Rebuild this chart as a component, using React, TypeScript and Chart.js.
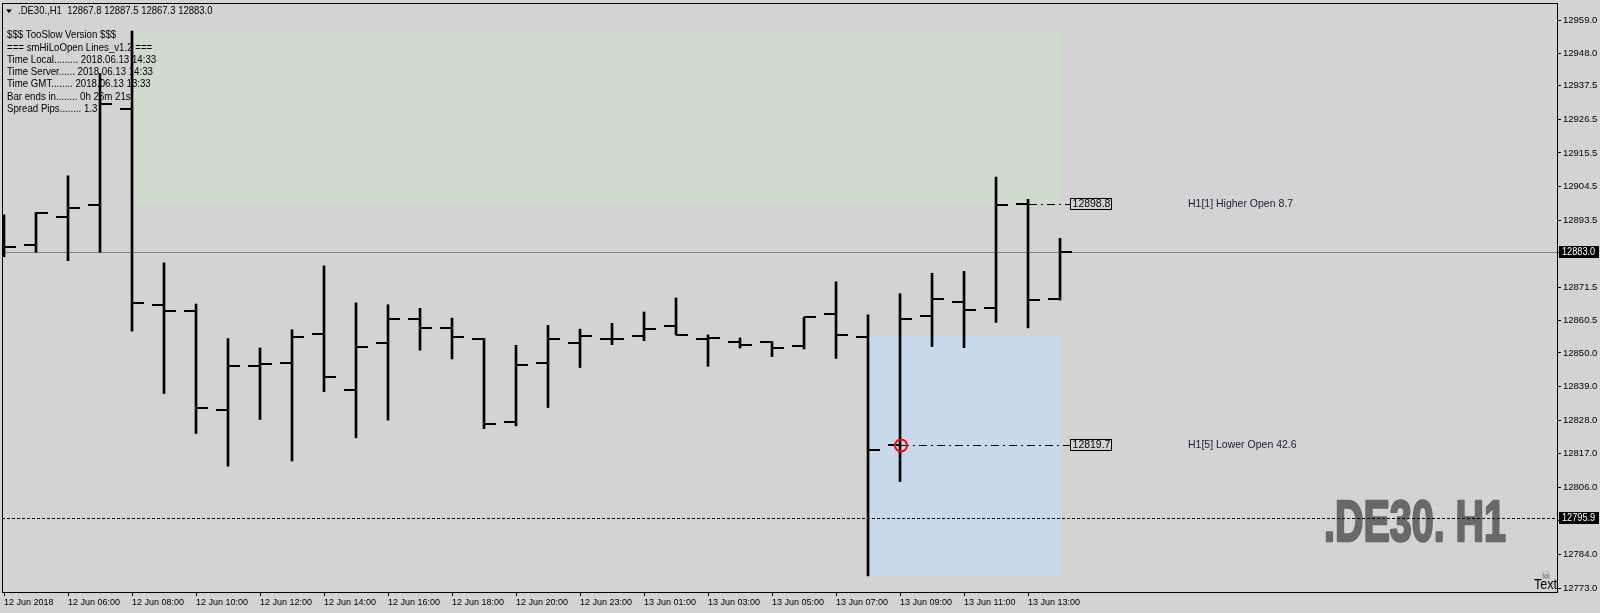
import React, { useEffect, useRef } from 'react';
import { Chart, registerables } from 'chart.js';

Chart.register(...registerables);

// ---------- DATA ----------
const opens = [
  12890.0, 12885.5, 12894.6, 12898.3, 12929.8, 12865.8, 12863.7, 12831.4, 12845.8, 12846.7,
  12856.2, 12837.9, 12853.3, 12861.0, 12858.0, 12854.5, 12827.3, 12846.8, 12853.3, 12854.7,
  12855.4, 12858.7, 12854.7, 12853.7, 12853.7, 12852.2, 12862.9, 12855.3, 12819.7, 12862.2,
  12866.8, 12864.6, 12898.8, 12867.8,
];
const highs = [
  12895.2, 12896.0, 12908.0, 12941.5, 12955.4, 12879.5, 12866.0, 12854.7, 12851.6, 12857.6,
  12878.5, 12866.4, 12865.8, 12864.6, 12861.4, 12854.8, 12852.5, 12859.0, 12857.8, 12859.7,
  12863.4, 12868.0, 12855.9, 12854.9, 12853.7, 12861.7, 12873.3, 12862.5, 12869.4, 12876.1,
  12876.7, 12907.6, 12900.3, 12887.5,
];
const lows = [
  12881.5, 12883.0, 12880.2, 12883.0, 12857.1, 12836.7, 12823.6, 12812.9, 12828.2, 12814.6,
  12837.3, 12822.2, 12828.0, 12850.9, 12848.0, 12825.2, 12826.1, 12832.1, 12845.2, 12852.7,
  12854.0, 12855.9, 12845.6, 12851.6, 12848.8, 12851.3, 12848.2, 12777.0, 12807.9, 12852.1,
  12851.7, 12860.0, 12858.2, 12867.3,
];
const closes = [
  12884.6, 12895.7, 12897.5, 12931.6, 12866.4, 12863.7, 12832.1, 12845.8, 12846.4, 12855.3,
  12842.2, 12852.0, 12861.2, 12858.0, 12855.1, 12826.8, 12846.2, 12854.4, 12855.4, 12854.5,
  12857.7, 12856.0, 12854.8, 12852.7, 12851.5, 12861.7, 12856.0, 12818.3, 12861.2, 12867.7,
  12864.1, 12898.3, 12867.4, 12883.0,
];

const xTickBars = [0, 2, 4, 6, 8, 10, 12, 14, 16, 18, 20, 22, 24, 26, 28, 30, 32];
const xTickLabels = [
  '12 Jun 2018', '12 Jun 06:00', '12 Jun 08:00', '12 Jun 10:00', '12 Jun 12:00', '12 Jun 14:00',
  '12 Jun 16:00', '12 Jun 18:00', '12 Jun 20:00', '12 Jun 23:00', '13 Jun 01:00', '13 Jun 03:00',
  '13 Jun 05:00', '13 Jun 07:00', '13 Jun 09:00', '13 Jun 11:00', '13 Jun 13:00',
];
const yTickLabels = [
  '12959.0', '12948.0', '12937.5', '12926.5', '12915.5', '12904.5', '12893.5', '12883.0', '12871.5',
  '12860.5', '12850.0', '12839.0', '12828.0', '12817.0', '12806.0', '12795.0', '12784.0', '12773.0',
];
const yRange = [12771.7, 12964.6];
const xRange = [-0.0625, 48.53];

const currentPrice = 12883.0;
const dashedLinePrice = 12795.9;
const levelBars = [32, 28];
const levelPrices = [12898.8, 12819.7];
const levelTexts = ['H1[1] Higher Open 8.7', 'H1[5] Lower Open 42.6'];
const greenZoneBars = [4, 33];
const greenZonePrices = [12898.3, 12955.4];
const blueZoneBars = [27, 33];
const blueZonePrices = [12777.0, 12855.5];

const headerText = '.DE30.,H1  12867.8 12887.5 12867.3 12883.0';
const infoLines = [
  '$$$ TooSlow Version $$$',
  '=== smHiLoOpen Lines_v1.2 ===',
  'Time Local......... 2018.06.13 14:33',
  'Time Server...... 2018.06.13 14:33',
  'Time GMT........ 2018.06.13 13:33',
  'Bar ends in........ 0h 26m 21s',
  'Spread Pips........ 1.3',
];
const watermarkText = '.DE30. H1';
const cornerText = 'Text';

// ---------- FONTS ----------
const FONT = '"Liberation Sans", Arial, sans-serif';

function drawScaledText(ctx: CanvasRenderingContext2D, text: string, x: number, y: number, font: string, color: string, sx: number, align: CanvasTextAlign = 'left', baseline: CanvasTextBaseline = 'middle') {
  ctx.save();
  ctx.font = font;
  ctx.fillStyle = color;
  ctx.textAlign = align;
  ctx.textBaseline = baseline;
  ctx.translate(x, y);
  ctx.scale(sx, 1);
  ctx.fillText(text, 0, 0);
  ctx.restore();
}

const mt4Plugin = {
  id: 'mt4',
  beforeDraw(chart: any) {
    const { ctx, width, height } = chart;
    ctx.save();
    ctx.fillStyle = '#d3d3d3';
    ctx.fillRect(0, 0, width, height);
    ctx.restore();
  },
  beforeDatasetsDraw(chart: any) {
    const { ctx, chartArea: a, scales } = chart;
    const xs = scales.x, ys = scales.y;
    ctx.save();
    ctx.beginPath();
    ctx.rect(a.left, a.top, a.right - a.left, a.bottom - a.top);
    ctx.clip();

    const zone = (bars: number[], prices: number[], color: string) => {
      const x0 = Math.round(xs.getPixelForValue(bars[0]));
      const x1 = Math.round(xs.getPixelForValue(bars[1]));
      const y0 = Math.round(ys.getPixelForValue(prices[1]));
      const y1 = Math.round(ys.getPixelForValue(prices[0]));
      ctx.fillStyle = color;
      ctx.fillRect(x0, y0, x1 - x0, y1 - y0);
    };
    zone(greenZoneBars, greenZonePrices, '#cfdbcc');
    zone(blueZoneBars, blueZonePrices, '#c8d9eb');

    // watermark
    ctx.save();
    ctx.font = 'bold 58px ' + FONT;
    const w = ctx.measureText(watermarkText).width;
    ctx.fillStyle = '#696969';
    ctx.strokeStyle = '#696969';
    ctx.lineWidth = 2.5;
    ctx.lineJoin = 'round';
    ctx.textBaseline = 'alphabetic';
    ctx.translate(a.right - 233, a.bottom - 51);
    ctx.scale(182 / w, 1);
    ctx.strokeText(watermarkText, 0, 0);
    ctx.fillText(watermarkText, 0, 0);
    ctx.restore();

    // info text
    infoLines.forEach((t, i) => {
      drawScaledText(ctx, t, a.left + 5, a.top + 32 + i * 12.3, '11.8px ' + FONT, '#000', 0.82);
    });

    // current price line
    const cy = Math.round(ys.getPixelForValue(currentPrice)) + 0.5;
    ctx.strokeStyle = '#778899';
    ctx.lineWidth = 1;
    ctx.beginPath();
    ctx.moveTo(a.left, cy);
    ctx.lineTo(a.right, cy);
    ctx.stroke();

    // dashed line
    const dy = Math.round(ys.getPixelForValue(dashedLinePrice)) + 0.5;
    ctx.strokeStyle = '#000';
    ctx.setLineDash([3, 2]);
    ctx.beginPath();
    ctx.moveTo(a.left, dy);
    ctx.lineTo(a.right, dy);
    ctx.stroke();
    ctx.setLineDash([]);
    ctx.restore();
  },
  afterDatasetsDraw(chart: any) {
    const { ctx, chartArea: a, scales } = chart;
    const xs = scales.x, ys = scales.y;
    ctx.save();
    ctx.beginPath();
    ctx.rect(a.left, a.top, a.right - a.left, a.bottom - a.top);
    ctx.clip();
    ctx.fillStyle = '#000';
    for (let i = 0; i < opens.length; i++) {
      const px = Math.round(xs.getPixelForValue(i));
      const oy = Math.round(ys.getPixelForValue(opens[i]));
      const cy = Math.round(ys.getPixelForValue(closes[i]));
      ctx.fillRect(px - 12, oy - 1, 12, 2);
      ctx.fillRect(px, cy - 1, 12, 2);
    }

    const lastX = Math.round(xs.getPixelForValue(opens.length - 1));
    const boxX = lastX + 10;
    levelPrices.forEach((p, k) => {
      const bx = Math.round(xs.getPixelForValue(levelBars[k]));
      const ly = Math.round(ys.getPixelForValue(p)) + 0.5;
      ctx.strokeStyle = '#000';
      ctx.lineWidth = 1;
      ctx.setLineDash([8, 4, 2, 4]);
      ctx.beginPath();
      ctx.moveTo(bx + 1, ly);
      ctx.lineTo(boxX, ly);
      ctx.stroke();
      ctx.setLineDash([]);
      ctx.strokeRect(boxX + 0.5, ly - 6, 41, 11);
      drawScaledText(ctx, p.toFixed(1), boxX + 21.5, ly, '10.8px ' + FONT, '#000', 0.97, 'center');
      drawScaledText(ctx, levelTexts[k], lastX + 128, ly, '10.5px ' + FONT, '#1a1a33', 1, 'left');
    });

    // red circle
    const rx = xs.getPixelForValue(levelBars[1]);
    const ry = ys.getPixelForValue(levelPrices[1]);
    ctx.strokeStyle = '#ff0000';
    ctx.lineWidth = 2;
    ctx.beginPath();
    ctx.arc(rx + 1, ry, 6, 0, Math.PI * 2);
    ctx.stroke();
    ctx.restore();
  },
  afterDraw(chart: any) {
    const { ctx, chartArea: a, scales } = chart;
    const ys = scales.y;
    ctx.save();
    // frame
    ctx.strokeStyle = '#000';
    ctx.lineWidth = 1;
    ctx.strokeRect(a.left + 0.5, a.top + 0.5, a.right - a.left, a.bottom - a.top);

    // header
    ctx.fillStyle = '#000';
    ctx.beginPath();
    ctx.moveTo(a.left + 4, a.top + 6.5);
    ctx.lineTo(a.left + 10, a.top + 6.5);
    ctx.lineTo(a.left + 7, a.top + 10);
    ctx.closePath();
    ctx.fill();
    drawScaledText(ctx, headerText, a.left + 16, a.top + 8, '11.6px ' + FONT, '#000', 0.82);

    // axis value boxes
    const box = (price: number) => {
      const yy = Math.round(ys.getPixelForValue(price));
      ctx.fillStyle = '#000';
      ctx.fillRect(a.right + 2, yy - 6, 40, 12);
      drawScaledText(ctx, price.toFixed(1), a.right + 5, yy, '11.2px ' + FONT, '#fff', 0.82, 'left');
    };
    box(currentPrice);
    box(dashedLinePrice);

    // corner text + skull
    drawScaledText(ctx, cornerText, a.right, a.bottom - 3, '14px ' + FONT, '#000', 0.9, 'right', 'alphabetic');
    drawScaledText(ctx, '\u2620', a.right - 11, a.bottom - 16, '11px "DejaVu Sans"', '#6a6a6a', 1, 'center');
    ctx.restore();
  },
};

export default function App() {
  const ref = useRef<HTMLCanvasElement | null>(null);
  useEffect(() => {
    document.body.style.margin = '0';
    const canvas = ref.current;
    if (!canvas) return;
    const chart = new Chart(canvas, {
      type: 'bar',
      data: {
        datasets: [
          {
            data: highs.map((h, i) => ({ x: i, y: [lows[i], h] })) as any,
            backgroundColor: '#000',
            borderWidth: 0,
            barThickness: 2,
            grouped: false,
          } as any,
        ],
      },
      options: {
        animation: false,
        responsive: false,
        devicePixelRatio: 1,
        events: [],
        layout: { padding: { left: 2, top: 3, right: 0, bottom: 0 } },
        plugins: { legend: { display: false }, tooltip: { enabled: false } },
        scales: {
          x: {
            type: 'linear',
            min: xRange[0],
            max: xRange[1],
            offset: false,
            afterBuildTicks: (s: any) => {
              s.ticks = xTickBars.map((v) => ({ value: v }));
            },
            afterFit: (s: any) => {
              s.height = 21;
              s.paddingLeft = 0;
              s.paddingRight = 0;
            },
            grid: { display: true, drawOnChartArea: false, drawTicks: true, tickLength: 4, color: '#000', offset: false },
            border: { display: true, color: '#000' },
            ticks: {
              autoSkip: false,
              maxRotation: 0,
              minRotation: 0,
              align: 'start',
              padding: 1,
              color: '#000',
              font: { family: FONT, size: 9 },
              callback: (_v: any, i: number) => xTickLabels[i],
            },
          } as any,
          y: {
            type: 'linear',
            position: 'right',
            min: yRange[0],
            max: yRange[1],
            afterBuildTicks: (s: any) => {
              s.ticks = yTickLabels.map((l) => ({ value: parseFloat(l) }));
            },
            afterFit: (s: any) => {
              s.width = 43;
              s.paddingTop = 0;
              s.paddingBottom = 0;
            },
            grid: { display: true, drawOnChartArea: false, drawTicks: true, tickLength: 4, color: '#000' },
            border: { display: true, color: '#000' },
            ticks: {
              crossAlign: 'near',
              padding: 2,
              color: '#000',
              font: { family: FONT, size: 9.5 },
              callback: (_v: any, i: number) => yTickLabels[i],
            },
          } as any,
        },
      },
      plugins: [mt4Plugin as any],
    });
    return () => chart.destroy();
  }, []);
  return (
    <div style={{ width: 1600, height: 613 }}>
      <canvas ref={ref} width={1600} height={613} style={{ display: 'block' }} />
    </div>
  );
}
